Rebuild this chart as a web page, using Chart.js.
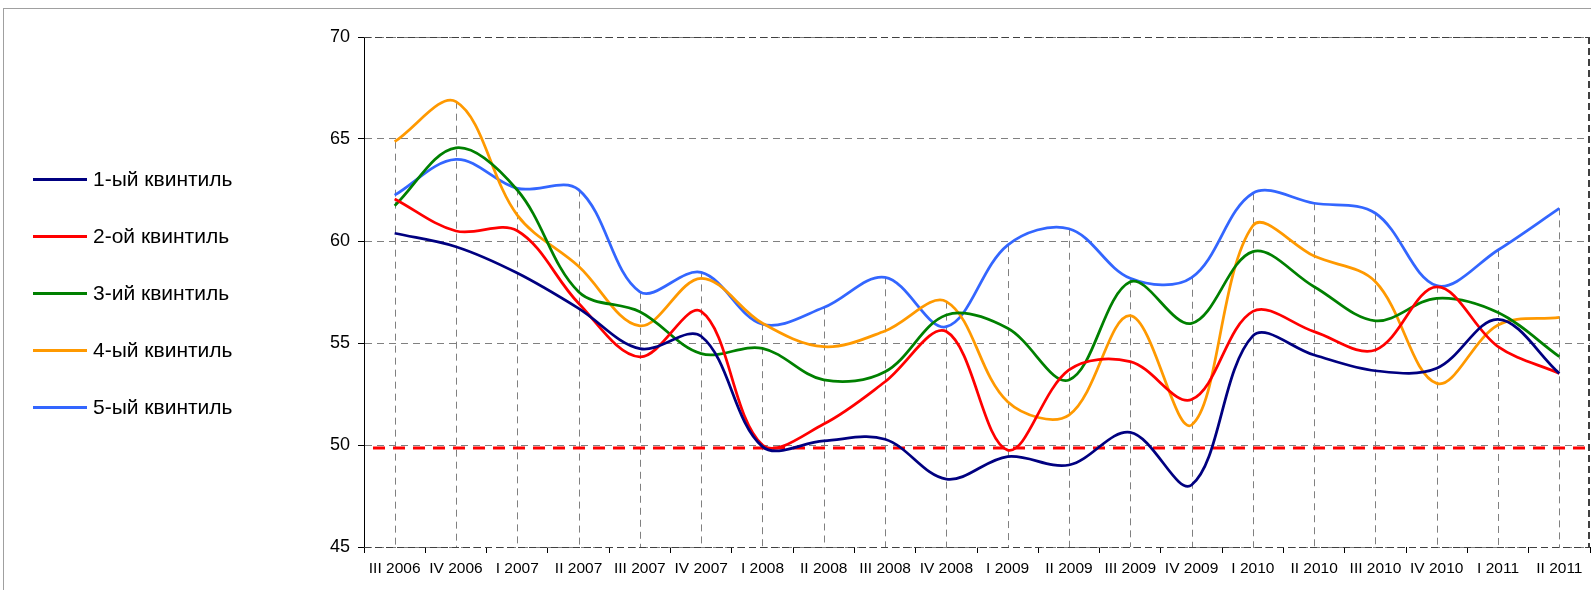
<!DOCTYPE html>
<html><head><meta charset="utf-8">
<script src="https://cdn.jsdelivr.net/npm/chart.js@4"></script>
<style>
html,body{margin:0;padding:0;background:#fff;overflow:hidden;}
#wrap{position:relative;width:1591px;height:590px;overflow:hidden;}
#frame{position:absolute;left:3px;top:8px;width:1700px;height:700px;border:1px solid #a0a0a0;box-sizing:border-box}
canvas{position:absolute;left:0;top:0}
#legend{position:absolute;left:0;top:0;font-family:"Liberation Sans",Arial,sans-serif;font-size:21px;color:#000}
.item{position:absolute;left:33px;height:24px;display:flex;align-items:center;white-space:nowrap}
.swatch{width:54px;height:3px;margin-right:6px}
</style></head>
<body><div id="wrap"><div id="frame"></div><canvas id="c" width="1591" height="590"></canvas><div id="legend"></div></div>
<script>
const categories = ["III 2006","IV 2006","I 2007","II 2007","III 2007","IV 2007","I 2008","II 2008","III 2008","IV 2008","I 2009","II 2009","III 2009","IV 2009","I 2010","II 2010","III 2010","IV 2010","I 2011","II 2011"];
const quintile1 = [60.38,59.72,58.43,56.7,54.72,55.33,49.92,50.2,50.28,48.33,49.43,49.02,50.62,48.04,55.35,54.41,53.64,53.76,56.16,53.51];
const quintile2 = [62.06,60.49,60.5,56.95,54.32,56.55,50.0,51.03,53.1,55.56,49.75,53.68,54.09,52.23,56.55,55.56,54.66,57.75,54.82,53.51];
const quintile3 = [61.73,64.57,62.5,57.51,56.53,54.48,54.74,53.19,53.59,56.37,55.72,53.19,58.0,55.96,59.48,57.76,56.09,57.19,56.49,54.33];
const quintile4 = [64.87,66.83,61.27,58.76,55.84,58.17,55.97,54.82,55.59,57.03,52.12,51.47,56.34,50.98,60.75,59.26,58.0,53.02,55.88,56.26];
const quintile5 = [62.25,64.0,62.58,62.52,57.51,58.46,55.92,56.74,58.22,55.8,59.8,60.6,58.17,58.2,62.34,61.85,61.36,57.81,59.56,61.6];
const seriesNames = ["1-ый квинтиль","2-ой квинтиль","3-ий квинтиль","4-ый квинтиль","5-ый квинтиль"];
const seriesColors = ["#000080","#FF0000","#008000","#FF9900","#3366FF"];
const seriesValues = [quintile1,quintile2,quintile3,quintile4,quintile5];
const THRESHOLD = 49.85;
const Y_MIN = 45, Y_MAX = 70, Y_STEP = 5;

const FONT = '"Liberation Sans", Arial, sans-serif';

const legend = document.getElementById('legend');
seriesNames.forEach((n,i)=>{
  const d = document.createElement('div');
  d.className='item';
  d.style.top = (179 - 12 + i*57) + 'px';
  d.innerHTML = '<span class="swatch" style="background:'+seriesColors[i]+'"></span><span>'+n+'</span>';
  legend.appendChild(d);
});

const decor = {
  id:'decor',
  beforeDatasetsDraw(chart){
    const {ctx, chartArea:a, scales:{x,y}} = chart;
    ctx.save();
    ctx.strokeStyle='#404040'; ctx.lineWidth=1; ctx.setLineDash([7,4]);
    ctx.beginPath(); ctx.moveTo(a.left, Math.round(a.top)+0.5); ctx.lineTo(a.right, Math.round(a.top)+0.5); ctx.stroke();
    ctx.beginPath(); ctx.moveTo(a.left, Math.round(a.bottom)+0.5); ctx.lineTo(a.right, Math.round(a.bottom)+0.5); ctx.stroke();
    ctx.lineWidth=2;
    ctx.beginPath(); ctx.moveTo(a.right-1, a.top); ctx.lineTo(a.right-1, a.bottom); ctx.stroke();
    ctx.strokeStyle='#808080'; ctx.lineWidth=1; ctx.setLineDash([7,5]);
    categories.forEach((c,i)=>{
      const m = Math.max(...chart.data.datasets.map(d=>d.data[i]));
      const px = Math.round(x.getPixelForValue(i))+0.5;
      ctx.beginPath(); ctx.moveTo(px, y.getPixelForValue(m)); ctx.lineTo(px, a.bottom); ctx.stroke();
    });
    ctx.strokeStyle='#FF0000'; ctx.lineWidth=3; ctx.setLineDash([12,8]);
    const ty = y.getPixelForValue(THRESHOLD);
    ctx.beginPath(); ctx.moveTo(a.left+9, ty); ctx.lineTo(a.right+2, ty); ctx.stroke();
    ctx.restore();
  }
};

new Chart(document.getElementById('c'), {
  type:'line',
  data:{
    labels:categories,
    datasets: seriesValues.map((v,i)=>({
      label:seriesNames[i], data:v, borderColor:seriesColors[i], backgroundColor:seriesColors[i],
      borderWidth:2.75, pointRadius:0, tension:0.35, fill:false
    }))
  },
  options:{
    responsive:false, animation:false, devicePixelRatio:1,
    layout:{padding:{left:300, top:37, right:1, bottom:0}},
    plugins:{legend:{display:false}, tooltip:{enabled:false}, title:{display:false}},
    scales:{
      x:{
        offset:true,
        grid:{offset:true, drawOnChartArea:false, drawTicks:true, tickLength:6, tickColor:'#000', color:'#000'},
        border:{display:false},
        ticks:{color:'#000', font:{family:FONT, size:15.5}, padding:6, maxRotation:0, autoSkip:false},
        afterFit(s){ s.height = 43; }
      },
      y:{
        min:Y_MIN, max:Y_MAX,
        grid:{color:'#808080', lineWidth:1, tickLength:6, tickColor:'#000', tickBorderDash:[]},
        border:{display:true, color:'#000', width:1, dash:[7,5]},
        ticks:{stepSize:Y_STEP, color:'#000', font:{family:FONT, size:18}, padding:8},
        afterFit(s){ s.width = 64; }
      }
    }
  },
  plugins:[decor]
});
</script>
</body></html>
